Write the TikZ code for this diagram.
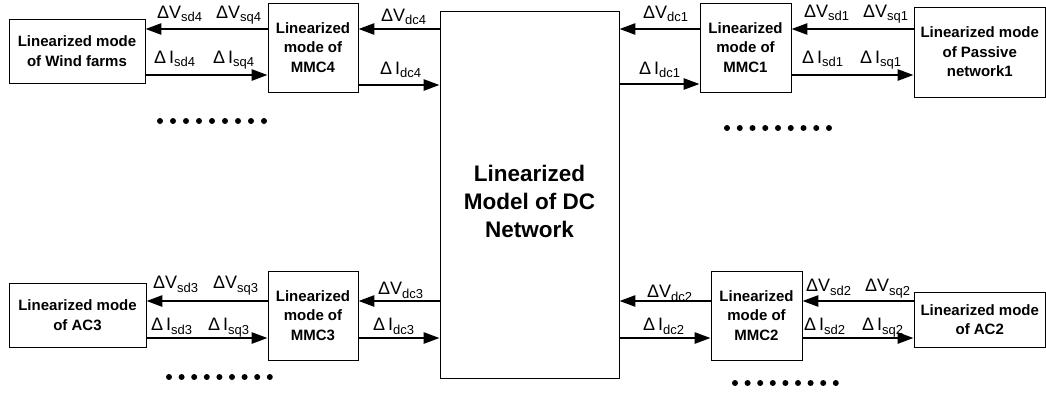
\documentclass[tikz,border=0pt]{standalone}
\usepackage{fontspec}
\setmainfont{Liberation Sans}
\usetikzlibrary{arrows.meta}
\newcommand\mysub[1]{\raisebox{-0.42ex}{\fontsize{13}{13}\selectfont #1}}
\newcommand\dVv[1]{ΔV\mysub{#1}}
\newcommand\dIi[1]{Δ\hspace{3pt}I\mysub{#1}}
\begin{document}
\begin{tikzpicture}[x=1pt,y=-1pt,
  box/.style={draw, line width=0.8pt, inner sep=0pt, align=center,
    font=\bfseries\fontsize{15}{19.5}\selectfont},
  arr/.style={line width=2.6pt, -{Triangle[length=16pt,width=11pt]}},
  lbl/.style={font=\fontsize{18}{18}\selectfont, inner sep=0pt, anchor=base west},
  dot/.style={circle, fill, inner sep=0pt, minimum size=6pt}]
\useasboundingbox (0,0) rectangle (1046,392);
% boxes
\node[box, minimum width=136pt, minimum height=64pt] (wind) at (77,51) {Linearized mode\\of Wind farms};
\node[box, minimum width=90pt, minimum height=89pt] (mmc4) at (313,47.5) {Linearized\\mode of\\MMC4};
\node[box, minimum width=179pt, minimum height=367pt, font=\bfseries\fontsize{22.5}{28}\selectfont] (dc) at (529.5,194.5) {};
\node[font=\bfseries\fontsize{22.5}{28}\selectfont, align=center, inner sep=0pt] (dctext) at (529.5,201) {Linearized\\Model of DC\\Network};
\node[box, minimum width=91pt, minimum height=89pt] (mmc1) at (745.5,47.5) {Linearized\\mode of\\MMC1};
\node[box, minimum width=131.5pt, minimum height=90pt] (pas) at (979.75,52) {Linearized mode\\of Passive\\network1};
\node[box, minimum width=137pt, minimum height=64pt] (ac3) at (77.5,315) {Linearized mode\\of AC3};
\node[box, minimum width=90pt, minimum height=89pt] (mmc3) at (313,315.5) {Linearized\\mode of\\MMC3};
\node[box, minimum width=91pt, minimum height=89pt] (mmc2) at (756.5,315.5) {Linearized\\mode of\\MMC2};
\node[box, minimum width=131.5pt, minimum height=55pt] (ac2) at (979.75,319.5) {Linearized mode\\of AC2};
% arrows top-left
\draw[arr] (mmc4.west |- 0,29) -- (wind.east |- 0,29);
\draw[arr] (wind.east |- 0,75) -- (mmc4.west |- 0,75);
\draw[arr] (dc.west |- 0,29) -- (mmc4.east |- 0,29);
\draw[arr] (mmc4.east |- 0,85) -- (dc.west |- 0,85);
% arrows top-right
\draw[arr] (mmc1.west |- 0,29) -- (dc.east |- 0,29);
\draw[arr] (dc.east |- 0,84) -- (mmc1.west |- 0,84);
\draw[arr] (pas.west |- 0,29) -- (mmc1.east |- 0,29);
\draw[arr] (mmc1.east |- 0,75) -- (pas.west |- 0,75);
% arrows bottom-left
\draw[arr] (mmc3.west |- 0,301) -- (ac3.east |- 0,301);
\draw[arr] (ac3.east |- 0,338) -- (mmc3.west |- 0,338);
\draw[arr] (dc.west |- 0,301) -- (mmc3.east |- 0,301);
\draw[arr] (mmc3.east |- 0,338) -- (dc.west |- 0,338);
% arrows bottom-right
\draw[arr] (mmc2.west |- 0,301) -- (dc.east |- 0,301);
\draw[arr] (dc.east |- 0,338) -- (mmc2.west |- 0,338);
\draw[arr] (ac2.west |- 0,301) -- (mmc2.east |- 0,301);
\draw[arr] (mmc2.east |- 0,338) -- (ac2.west |- 0,338);
% labels
\node[lbl] (l1) at (157,18) {\dVv{sd4}};
\node[lbl] (l2) at (216,18) {\dVv{sq4}};
\node[lbl] (l3) at (154,63) {\dIi{sd4}};
\node[lbl] (l4) at (213,63) {\dIi{sq4}};
\node[lbl] (l5) at (381,21) {\dVv{dc4}};
\node[lbl] (l6) at (380,74) {\dIi{dc4}};
\node[lbl] (l7) at (643,18) {\dVv{dc1}};
\node[lbl] (l8) at (639,74) {\dIi{dc1}};
\node[lbl] (l9) at (804,17) {\dVv{sd1}};
\node[lbl] (l10) at (863,17) {\dVv{sq1}};
\node[lbl] (l11) at (802,63) {\dIi{sd1}};
\node[lbl] (l12) at (860,63) {\dIi{sq1}};
\node[lbl] (l13) at (153,288) {\dVv{sd3}};
\node[lbl] (l14) at (213,288) {\dVv{sq3}};
\node[lbl] (l15) at (151,330) {\dIi{sd3}};
\node[lbl] (l16) at (208,330) {\dIi{sq3}};
\node[lbl] (l17) at (378,294) {\dVv{dc3}};
\node[lbl] (l18) at (373,330) {\dIi{dc3}};
\node[lbl] (l19) at (647,297) {\dVv{dc2}};
\node[lbl] (l20) at (643,330) {\dIi{dc2}};
\node[lbl] (l21) at (806,291) {\dVv{sd2}};
\node[lbl] (l22) at (865,291) {\dVv{sq2}};
\node[lbl] (l23) at (804,330) {\dIi{sd2}};
\node[lbl] (l24) at (862,330) {\dIi{sq2}};
% dots
\foreach \i in {0,...,8} {
  \node[dot] (da\i) at (160+\i*13,121) {};
  \node[dot] (db\i) at (727+\i*12.75,128) {};
  \node[dot] (dc\i) at (169+\i*12.6,377) {};
  \node[dot] (dd\i) at (735+\i*12.6,383) {};
}
\end{tikzpicture}
\end{document}
